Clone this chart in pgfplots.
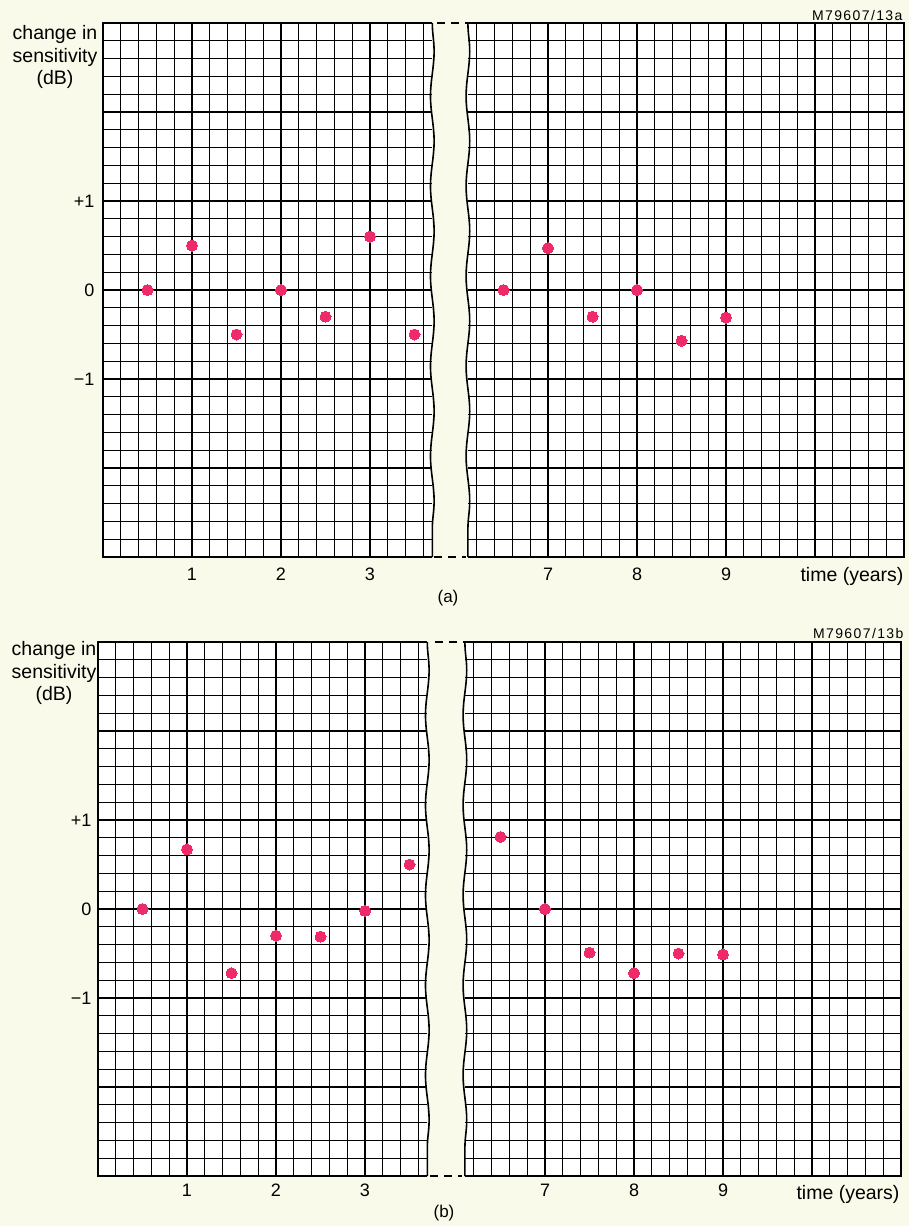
\documentclass[border=0pt]{standalone}
\usepackage{fontspec}
\setmainfont{Liberation Sans}
\usepackage{pgfplots}
\pgfplotsset{compat=1.18}
\usetikzlibrary{decorations.pathmorphing}
\definecolor{bg}{RGB}{250,250,234}
\definecolor{dot}{RGB}{238,42,104}

\tikzset{tear/.style={line width=1.6pt, decorate, decoration={snake, amplitude=1.8pt, segment length=90pt}}}
\pgfplotsset{
  paper/.style={
    scale only axis,
    x=89pt, y=89pt,
    ymin=-3, ymax=3,
    axis line style={draw=none},
    axis background/.style={fill=white},
    clip=false,
    major tick length=0pt, minor tick length=0pt,
    grid=both,
    major grid style={black, line width=1.9pt},
    minor grid style={black, line width=1.0pt},
    ytick={-3,-2,-1,0,1,2,3},
    minor ytick={-2.8,-2.6,...,2.9},
    tick label style={font=\fontsize{18}{20}\selectfont},
    /pgf/number format/assume math mode=true,
  },
  leftpart/.style={paper, xmin=0, xmax=3.7,
    xtick={0,1,2,3}, xticklabels={,1,2,3},
    minor xtick={0.2,0.4,...,3.65},
    yticklabels={,,−1,0,+1,,}},
  rightpart/.style={paper, xmin=6.1, xmax=11,
    xtick={7,8,9,10,11}, xticklabels={7,8,9,,},
    minor xtick={6.2,6.4,...,10.9},
    yticklabels={}},
  pts/.style={only marks, color=dot, mark=*, mark size=5.5pt, mark options={draw=dot, fill=dot, line width=0pt}},
}

\begin{document}
\begin{tikzpicture}
\fill[bg] (0pt,0pt) rectangle (909pt,-1226pt);

% ---------------- panel (a) ----------------
\begin{axis}[leftpart, at={(103pt,-557pt)}, anchor=south west,
  xticklabel shift=7.5pt, yticklabel shift=5pt]
  \addplot[pts] coordinates {(0.5,0) (1,0.5) (1.5,-0.5) (2,0) (2.5,-0.3) (3,0.6) (3.5,-0.5)};
  \draw[line width=2pt] (axis cs:3.7,3) -- (axis cs:0,3) -- (axis cs:0,-3) -- (axis cs:3.7,-3);
  \draw[tear] (axis cs:3.7,3) -- (axis cs:3.7,-3);
\end{axis}
\begin{axis}[rightpart, at={(467.9pt,-557pt)}, anchor=south west,
  xticklabel shift=7.5pt]
  \addplot[pts] coordinates {(6.5,0) (7,0.47) (7.5,-0.3) (8,0) (8.5,-0.57) (9,-0.31)};
  \draw[line width=2pt] (axis cs:6.1,3) -- (axis cs:11,3) -- (axis cs:11,-3) -- (axis cs:6.1,-3);
  \draw[tear] (axis cs:6.1,3) -- (axis cs:6.1,-3);
\end{axis}
\draw[line width=1.3pt, dash pattern=on 8pt off 6pt] (437pt,-23pt) -- (470pt,-23pt);
\draw[line width=1.3pt, dash pattern=on 8pt off 6pt] (434pt,-557pt) -- (466pt,-557pt);
\node[align=center, font=\fontsize{19.5}{22.5}\selectfont] at (55pt,-57pt) {change in\\sensitivity\\(dB)};
\node[anchor=east, font=\fontsize{19.5}{22}\selectfont] at (907pt,-576pt) {time (years)};
\node[font=\fontsize{17}{20}\selectfont] at (448pt,-598pt) {(a)};
\node[anchor=east, font=\fontsize{14}{16}\selectfont\addfontfeature{LetterSpace=10}] at (906pt,-15pt) {M79607/13a};

% ---------------- panel (b) ----------------
\begin{axis}[leftpart, at={(98pt,-1176pt)}, anchor=south west,
  xticklabel shift=4.5pt, yticklabel shift=3pt]
  \addplot[pts] coordinates {(0.5,0) (1,0.67) (1.5,-0.72) (2,-0.3) (2.5,-0.31) (3,-0.02) (3.5,0.5)};
  \draw[line width=2pt] (axis cs:3.7,3) -- (axis cs:0,3) -- (axis cs:0,-3) -- (axis cs:3.7,-3);
  \draw[tear] (axis cs:3.7,3) -- (axis cs:3.7,-3);
\end{axis}
\begin{axis}[rightpart, at={(464.9pt,-1176pt)}, anchor=south west,
  xticklabel shift=4.5pt]
  \addplot[pts] coordinates {(6.5,0.81) (7,0) (7.5,-0.49) (8,-0.72) (8.5,-0.5) (9,-0.51)};
  \draw[line width=2pt] (axis cs:6.1,3) -- (axis cs:11,3) -- (axis cs:11,-3) -- (axis cs:6.1,-3);
  \draw[tear] (axis cs:6.1,3) -- (axis cs:6.1,-3);
\end{axis}
\draw[line width=1.3pt, dash pattern=on 8pt off 6pt] (435pt,-642pt) -- (467pt,-642pt);
\draw[line width=1.3pt, dash pattern=on 8pt off 6pt] (430pt,-1176pt) -- (462pt,-1176pt);
\node[align=center, font=\fontsize{19.5}{22.5}\selectfont] at (54pt,-673pt) {change in\\sensitivity\\(dB)};
\node[anchor=east, font=\fontsize{19.5}{22}\selectfont] at (903pt,-1194pt) {time (years)};
\node[font=\fontsize{17}{20}\selectfont] at (444pt,-1213pt) {(b)};
\node[anchor=east, font=\fontsize{14}{16}\selectfont\addfontfeature{LetterSpace=10}] at (907pt,-633pt) {M79607/13b};
\end{tikzpicture}
\end{document}
